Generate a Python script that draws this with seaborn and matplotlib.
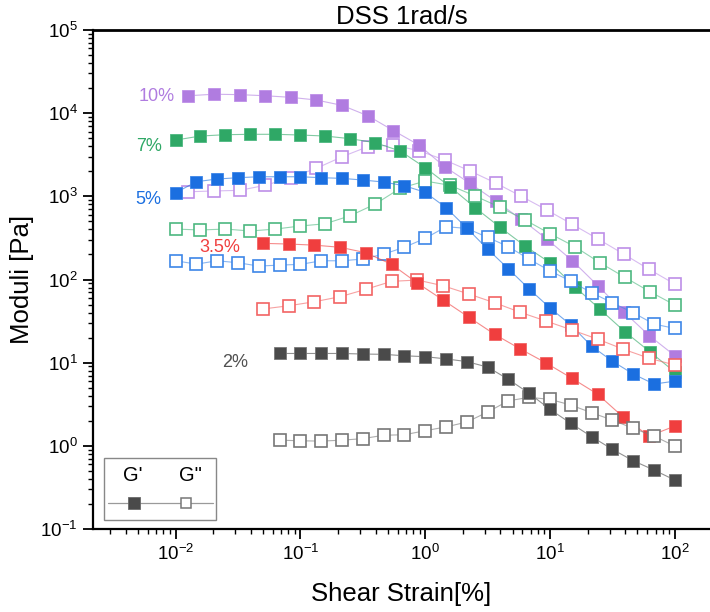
import matplotlib
matplotlib.use("Agg")
import matplotlib.pyplot as plt
import seaborn as sns
import pandas as pd
from matplotlib.patches import Rectangle
from matplotlib.lines import Line2D
from matplotlib.ticker import LogLocator, NullFormatter

# ---------------- data ----------------
strain_10 = [0.01265, 0.0203, 0.0326, 0.0522, 0.0838, 0.134, 0.216, 0.346, 0.555, 0.889,
             1.43, 2.29, 3.67, 5.89, 9.44, 15.1, 24.3, 38.9, 62.4, 100]
g1_10 = [16200, 16900, 16700, 16200, 15500, 14400, 12400, 9320, 6180, 4140,
         2270, 1430, 877, 529, 306, 168, 83.4, 40.9, 21.1, 12.1]
g2_10 = [1135, 1160, 1180, 1356, 1675, 2170, 2995, 3950, 4140, 3535,
         2735, 2015, 1445, 1000, 684, 460, 306, 202, 132, 88]

strain_7 = [0.01, 0.0158, 0.0251, 0.0398, 0.0631, 0.1, 0.158, 0.251, 0.398, 0.631,
            1, 1.58, 2.51, 3.98, 6.31, 10, 15.8, 25.1, 39.8, 63.1, 100]
g1_7 = [4750, 5310, 5510, 5570, 5570, 5460, 5310, 4930, 4410, 3505,
        2210, 1305, 730, 424, 252, 159, 81.8, 43.8, 23.5, 13.5, 7.7]
g2_7 = [404, 394, 404, 383, 404, 440, 468, 585, 808, 1250,
        1527, 1356, 1009, 738, 519, 355, 248, 159, 106, 71.3, 49.3]

strain_5 = [0.01, 0.0147, 0.0215, 0.0316, 0.0464, 0.0681, 0.1, 0.147, 0.215, 0.316,
            0.464, 0.681, 1, 1.47, 2.15, 3.16, 4.64, 6.81, 10, 14.7,
            21.5, 31.6, 46.4, 68.1, 100]
g1_5 = [1105, 1500, 1615, 1675, 1720, 1720, 1720, 1675, 1645, 1570,
        1486, 1340, 1117, 730, 416, 232, 134, 76.7, 45.4, 28.3,
        15.8, 10.4, 7.3, 5.53, 6.0]
g2_5 = [168, 153, 168, 159, 145, 149, 152, 168, 168, 176,
        202, 244, 313, 431, 412, 321, 248, 175, 127, 95,
        69.3, 52.5, 39.8, 29.1, 25.8]

strain_35 = [0.05, 0.0804, 0.129, 0.208, 0.334, 0.538, 0.865, 1.39, 2.24, 3.60,
             5.78, 9.31, 15.0, 24.0, 38.7, 62.2, 100]
g1_35 = [272, 267, 259, 244, 210, 152, 90.6, 56.6, 35.1, 21.9,
         14.6, 9.9, 6.47, 4.19, 2.20, 1.31, 1.73]
g2_35 = [44.2, 48.3, 54.0, 62.1, 76.2, 95, 98.5, 84.1, 66.8, 52.5,
         40.3, 31.6, 24.7, 19.2, 14.5, 11.3, 9.36]

strain_2 = [0.0681, 0.1, 0.147, 0.215, 0.316, 0.464, 0.681, 1, 1.47, 2.15,
            3.16, 4.64, 6.81, 10, 14.7, 21.5, 31.6, 46.4, 68.1, 100]
g1_2 = [12.9, 12.9, 12.9, 12.9, 12.7, 12.6, 12.1, 11.8, 11.1, 10.3,
        8.85, 6.3, 4.27, 2.74, 1.86, 1.29, 0.906, 0.661, 0.511, 0.387]
g2_2 = [1.17, 1.15, 1.14, 1.17, 1.22, 1.34, 1.36, 1.52, 1.69, 1.93,
        2.55, 3.48, 3.83, 3.62, 3.09, 2.5, 2.04, 1.62, 1.31, 0.99]

conc_labels = ["10%", "7%", "5%", "3.5%", "2%"]
title_text = "DSS 1rad/s"
xlabel_text = "Shear Strain[%]"
ylabel_text = "Moduli [Pa]"

# ---------------- style ----------------
sns.set_theme(style="ticks")
plt.rcParams["font.family"] = ["Liberation Sans", "DejaVu Sans"]
plt.rcParams["mathtext.fontset"] = "custom"
plt.rcParams["mathtext.rm"] = "Liberation Sans"
plt.rcParams["mathtext.it"] = "Liberation Sans:italic"
plt.rcParams["mathtext.bf"] = "Liberation Sans:bold"
plt.rcParams["axes.unicode_minus"] = False
plt.rcParams["text.color"] = "black"
plt.rcParams["axes.labelcolor"] = "black"
plt.rcParams["xtick.color"] = "black"
plt.rcParams["ytick.color"] = "black"

series = [
    # strain, G', G'', fill color, open edge color, label color, label pos (axes frac)
    (strain_10, g1_10, g2_10, "#B07CE0", "#BE8FE8", "#B07CE0", (0.1329, 0.8663)),
    (strain_7, g1_7, g2_7, "#2FA866", "#4DB880", "#2FA866", (0.1118, 0.7675)),
    (strain_5, g1_5, g2_5, "#1B6FE0", "#3D86E8", "#1B6FE0", (0.1102, 0.6613)),
    (strain_35, g1_35, g2_35, "#F03E3E", "#F26464", "#F03E3E", (0.2382, 0.5641)),
    (strain_2, g1_2, g2_2, "#4A4A4A", "#777777", "#505050", (0.2512, 0.3327)),
]

fig = plt.figure(figsize=(7.10, 6.12), dpi=100)
ax = fig.add_axes([93 / 710, 1 - 529 / 612, 617 / 710, 499 / 612])
ax.set_xscale("log")
ax.set_yscale("log")

for (x, y1, y2, c, ce, lc, lpos), lab in zip(series, conc_labels):
    df = pd.DataFrame({"strain": x, "G1": y1, "G2": y2})
    # connecting lines
    sns.lineplot(data=df, x="strain", y="G1", ax=ax, color=c, lw=0.8, alpha=0.6,
                 sort=False, estimator=None, legend=False)
    sns.lineplot(data=df, x="strain", y="G2", ax=ax, color=ce, lw=0.8, alpha=0.6,
                 sort=False, estimator=None, legend=False)
    # markers
    sns.lineplot(data=df, x="strain", y="G2", ax=ax, color=ce, linestyle="",
                 marker="s", markersize=8.2, markerfacecolor="white",
                 markeredgecolor=ce, markeredgewidth=1.2,
                 sort=False, estimator=None, legend=False)
    sns.lineplot(data=df, x="strain", y="G1", ax=ax, color=c, linestyle="",
                 marker="s", markersize=8.4, markerfacecolor=c,
                 markeredgecolor=ce, markeredgewidth=0.6,
                 sort=False, estimator=None, legend=False)
    ax.text(lpos[0], lpos[1], lab, transform=ax.transAxes, ha="right",
            va="center", fontsize=13, color=lc)

ax.set_xlim(0.00218, 191)
ax.set_ylim(0.1, 1e5)

ax.xaxis.set_major_locator(LogLocator(base=10, numticks=20))
ax.xaxis.set_minor_locator(LogLocator(base=10, subs=range(2, 10), numticks=100))
ax.yaxis.set_major_locator(LogLocator(base=10, numticks=20))
ax.yaxis.set_minor_locator(LogLocator(base=10, subs=range(2, 10), numticks=100))
ax.xaxis.set_minor_formatter(NullFormatter())
ax.yaxis.set_minor_formatter(NullFormatter())

ax.tick_params(axis="both", which="major", length=7, width=1.3, direction="out",
               labelsize=13.5, colors="black", pad=4)
ax.tick_params(axis="both", which="minor", length=3.8, width=1.0, direction="out",
               colors="black")
ax.tick_params(top=False, right=False, which="both")

for s in ["left", "bottom"]:
    ax.spines[s].set_linewidth(1.6)
    ax.spines[s].set_color("black")
ax.spines["top"].set_linewidth(2.0)
ax.spines["top"].set_color("black")
ax.spines["top"].set_visible(True)
ax.spines["right"].set_visible(False)

ax.set_title(title_text, fontsize=18.5, pad=4, color="black")
ax.set_xlabel(xlabel_text, fontsize=18.5, color="black")
ax.set_ylabel(ylabel_text, fontsize=18.5, color="black")
ax.xaxis.set_label_coords(0.5, -0.106)
ax.yaxis.set_label_coords(-0.095, 0.5)

# ---------------- legend box ----------------
ax.add_patch(Rectangle((0.0183, 0.018), 0.1806, 0.1237, transform=ax.transAxes,
                       facecolor="white", edgecolor="#888888", lw=1.0, zorder=5))
ax.add_line(Line2D([0.0243, 0.194], [0.0515, 0.0515], transform=ax.transAxes,
                   color="#9A9A9A", lw=0.9, zorder=6))
ax.add_line(Line2D([0.0669], [0.0515], transform=ax.transAxes, marker="s",
                   markersize=8, color="#4A4A4A", markeredgecolor="#6A6A6A",
                   markeredgewidth=0.6, linestyle="", zorder=7))
ax.add_line(Line2D([0.1512], [0.0515], transform=ax.transAxes, marker="s",
                   markersize=7.6, markerfacecolor="white", markeredgecolor="#777777",
                   markeredgewidth=1.1, linestyle="", zorder=7))
ax.text(0.0642, 0.1082, "G'", transform=ax.transAxes, ha="center", va="center",
        fontsize=14.5, zorder=8)
ax.text(0.1572, 0.1082, 'G"', transform=ax.transAxes, ha="center", va="center",
        fontsize=14.5, zorder=8)

fig.savefig("out.png", dpi=100)
